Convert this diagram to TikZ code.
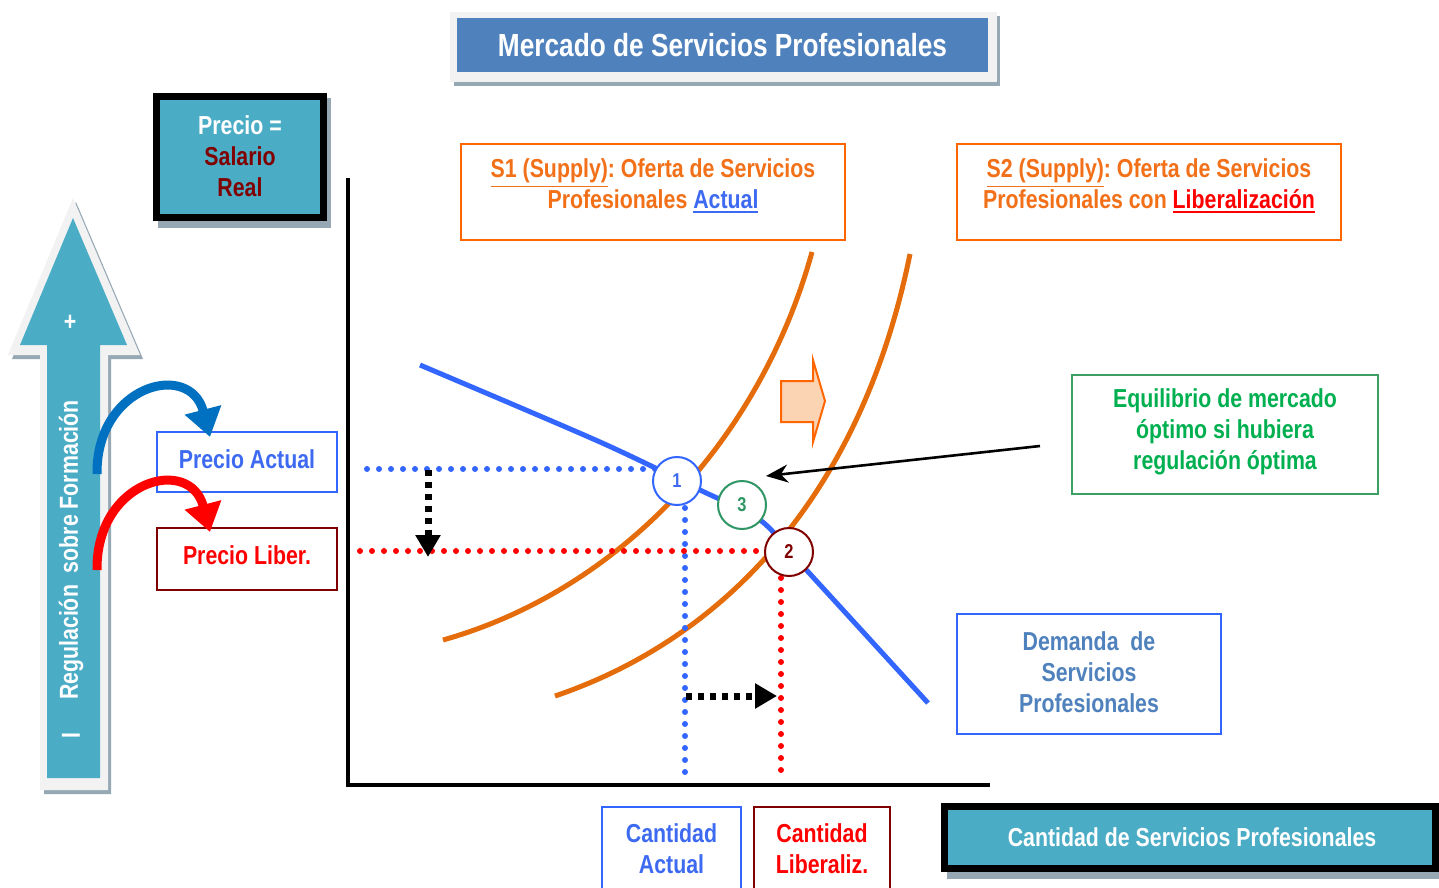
\documentclass[tikz,border=0pt]{standalone}
\usepackage{fontspec}
\setmainfont[FakeStretch=0.82]{Liberation Sans}
\usetikzlibrary{arrows.meta}
\definecolor{titleblue}{RGB}{79,129,189}
\definecolor{tealc}{RGB}{75,172,198}
\definecolor{dred}{RGB}{128,0,0}
\definecolor{shgray}{RGB}{150,168,180}
\definecolor{lgray}{RGB}{242,242,242}
\definecolor{otext}{RGB}{242,112,24}
\definecolor{oborder}{RGB}{255,102,0}
\definecolor{ocurve}{RGB}{228,108,10}
\definecolor{dblue}{RGB}{51,102,255}
\definecolor{pblue}{RGB}{61,106,240}
\definecolor{gtext}{RGB}{0,176,80}
\definecolor{gborder}{RGB}{60,160,100}
\definecolor{cgreen}{RGB}{46,150,100}
\definecolor{steel}{RGB}{79,129,189}
\definecolor{ablue}{RGB}{0,112,192}
\definecolor{ofill}{RGB}{251,212,180}
\newcommand\myul[1]{\leavevmode\vtop{\hbox{#1}\kern1.2pt\hrule height 0.8pt}}
\frenchspacing
\begin{document}
\begin{tikzpicture}[x=0.5pt,y=-0.5pt,
  txt/.style={font=\bfseries\fontsize{13}{15.5}\selectfont, align=center, inner sep=0pt},
  box/.style={draw, line width=1pt, inner sep=0pt},
  circ/.style={circle, draw, fill=white, line width=1pt, minimum size=24pt, inner sep=0pt, font=\bfseries\fontsize{10}{12}\selectfont},
  curve/.style={draw=ocurve, line width=2.5pt},
  dem/.style={draw=dblue, line width=2.5pt},
  bdots/.style={draw=dblue, line width=3pt, line cap=round, dash pattern=on 0pt off 6pt},
  rdots/.style={draw=red, line width=3pt, line cap=round, dash pattern=on 0pt off 6pt},
  kdots/.style={draw=black, line width=3.5pt, dash pattern=on 3pt off 3pt, -{Triangle[length=11pt,width=12pt]}},
  carrow/.style={line width=4.5pt, -{Triangle[length=14pt,width=18pt]}}
]
\useasboundingbox (0,0) rectangle (1439,888);
\fill[white] (0,0) rectangle (1439,888);

% title
\fill[shgray] (454,16) rectangle (1000,86);
\fill[lgray] (450,12) rectangle (997,82);
\node[fill=titleblue, minimum width=265.5pt, minimum height=27pt, inner sep=0pt] (title) at (722.5,45)
  {\bfseries\fontsize{16}{19}\selectfont\color{white}Mercado de Servicios Profesionales};

% price box
\fill[shgray] (158,98) rectangle (331,228);
\node[draw=black, line width=3.5pt, fill=tealc, minimum width=83.5pt, minimum height=60.5pt, inner sep=0pt] (pbox) at (240,157) {};
\node[txt] (ptxt) at (240,156) {\color{white}Precio =\\\color{dred}Salario\\\color{dred}Real};

% big arrow
\fill[shgray] (76,202) -- (143,359) -- (111,359) -- (111,794) -- (44,794) -- (44,359) -- (12,359) -- cycle;
\fill[lgray] (73,198) -- (140,355) -- (108,355) -- (108,790) -- (40,790) -- (40,355) -- (8,355) -- cycle;
\fill[tealc] (73,218) -- (127,345) -- (100,345) -- (100,778) -- (47,778) -- (47,345) -- (20,345) -- cycle;
\node[txt, text=white] (plus) at (70,323) {+};
\node[txt, text=white, rotate=90] (reg) at (71,550) {Regulación\ \ sobre Formación};
\node[txt, text=white, rotate=90] (minus) at (71,736) {I};

% axes
\draw[line width=2pt] (348,178) -- (348,785) -- (990,785);

% labels boxes
\node[box, draw=oborder, minimum width=192pt, minimum height=48pt] (s1) at (653,192) {};
\node[txt, text=otext] (s1t) at (653,186) {\myul{S1 (Supply)}: Oferta de Servicios\\Profesionales \textcolor{pblue}{\myul{Actual}}};
\node[box, draw=oborder, minimum width=192pt, minimum height=48pt] (s2) at (1149,192) {};
\node[txt, text=otext] (s2t) at (1149,186) {\myul{S2 (Supply)}: Oferta de Servicios\\Profesionales con \textcolor{red}{\myul{Liberalización}}};

\node[box, draw=dblue, minimum width=90pt, minimum height=30pt] (pa) at (247,462) {};
\node[txt, text=pblue] (pat) at (247,459) {Precio Actual};
\node[box, draw=dred, minimum width=90pt, minimum height=31pt] (pl) at (247,559) {};
\node[txt, text=red] (plt) at (247,555) {Precio Liber.};

\node[box, draw=gborder, minimum width=153pt, minimum height=59.5pt] (eq) at (1225,434.5) {};
\node[txt, text=gtext] (eqt) at (1225,432) {Equilibrio de mercado\\óptimo si hubiera\\regulación óptima};

\node[box, draw=dblue, minimum width=132pt, minimum height=60pt] (dm) at (1089,674) {};
\node[txt, text=steel] (dmt) at (1089,672) {Demanda\ \ de\\Servicios\\Profesionales};

\node[box, draw=dblue, minimum width=69.5pt, minimum height=44pt] (ca) at (671.5,851) {};
\node[txt, text=pblue] (cat) at (671.5,849) {Cantidad\\Actual};
\node[box, draw=dred, minimum width=68pt, minimum height=44pt] (cl) at (822,851) {};
\node[txt, text=red] (clt) at (822,849) {Cantidad\\Liberaliz.};

\fill[shgray] (947,868) rectangle (1439,879);
\node[draw=black, line width=3.5pt, fill=tealc, minimum width=245.5pt, minimum height=31pt, inner sep=0pt] (qbox) at (1190,837.5) {};
\node[txt, text=white] (qt) at (1192,837) {Cantidad de Servicios Profesionales};

% curved arrows
\coordinate (ba0) at (97,474);
\coordinate (ba1) at (210,437);
\draw[carrow, draw=ablue] (ba0) .. controls (96,385) and (190,360) .. (ba1);
\coordinate (ra0) at (97,570);
\coordinate (ra1) at (210,532);
\draw[carrow, draw=red] (ra0) .. controls (96,480) and (190,455) .. (ra1);

% supply curves
\draw[curve] (443,640) .. controls (620,590) and (760,440) .. (812,252);
\draw[curve] (555,696) .. controls (720,640) and (860,500) .. (910,254);

% orange block arrow
\draw[draw=oborder, fill=ofill, line width=1pt, line join=miter] (781,381) -- (813,381) -- (813,360) -- (825,401) -- (813,442) -- (813,422) -- (781,422) -- cycle;

% demand
\draw[dem] plot[smooth, tension=0.5] coordinates {(420,365) (600,442) (700,490) (760,520) (800,563) (928,703)};

% dotted guides
\coordinate (bh0) at (367,469); \coordinate (bh1) at (655,469);
\draw[bdots] (bh0) -- (bh1);
\coordinate (bv0) at (685,508); \coordinate (bv1) at (685,780);
\draw[bdots] (bv0) -- (bv1);
\coordinate (rh0) at (360,551); \coordinate (rh1) at (762,551);
\draw[rdots] (rh0) -- (rh1);
\coordinate (rv0) at (781,578); \coordinate (rv1) at (781,780);
\draw[rdots] (rv0) -- (rv1);
\coordinate (kv0) at (428,470); \coordinate (kv1) at (428,557);
\draw[kdots] (kv0) -- (kv1);
\coordinate (kh0) at (686,696); \coordinate (kh1) at (777,696);
\draw[kdots] (kh0) -- (kh1);

% circles
\node[circ, draw=dblue, text=pblue] (c1) at (677,481) {1};
\node[circ, draw=cgreen, text=cgreen] (c3) at (742,505) {3};
\node[circ, draw=dred, text=dred] (c2) at (789,552) {2};

% pointer
\coordinate (ptr) at (1040,446);
\draw[line width=1.3pt, -{Stealth[length=11pt,width=9pt]}] (ptr) -- (766,476);
\end{tikzpicture}
\end{document}
